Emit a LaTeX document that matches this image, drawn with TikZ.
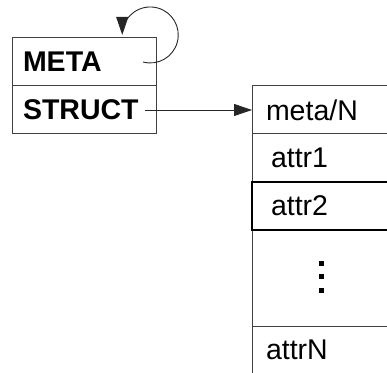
\documentclass[tikz,border=0pt]{standalone}
\usepackage{fontspec}
\setmainfont{Liberation Sans}
\usetikzlibrary{positioning,arrows.meta}
\colorlet{frame_gray}{black!75}
\tikzset{
    field/.style={draw=frame_gray,line width=1pt,outer sep=0pt,minimum height=48pt,inner ysep=0pt,align=left,font=\fontsize{28.5}{34}\selectfont},
    tag/.style={field,font=\fontsize{28.5}{34}\selectfont\bfseries,inner xsep=11pt,text width=122pt},
    cell/.style={field,inner xsep=14pt,text width=116pt},
    cell_indent/.style={field,inner xsep=19pt,text width=106pt},
    pointer/.style={-{Triangle[length=18pt,width=12pt]},line width=0.9pt,black!85},
}

\begin{document}
\begin{tikzpicture}[x=1pt,y=1pt]
  \useasboundingbox (0,0) rectangle (387,372);
  \clip (0,0) rectangle (387,372);
  % header block
  \node[tag,anchor=north west] (meta) at (12,334) {META};
  \node[tag,below=0pt of meta] (struct) {STRUCT};
  % attribute table
  \node[cell,anchor=north west] (metaN) at (252,286) {meta/N};
  \node[cell_indent,below=0pt of metaN] (attr1) {attr1};
  \node[cell,minimum height=96pt,below=48pt of attr1] (dots) {};
  \node[cell,below=0pt of dots] (attrN) {attrN};
  \node[cell_indent,draw=black,line width=1.2pt,below=0pt of attr1] (attr2) {attr2};
  \foreach \dy in {15,2,-12}
    \fill ([xshift=-3pt,yshift=\dy pt]dots.center) ++(-2.5,-2.5) rectangle ++(5,5);
  % links
  \draw[pointer] ([xshift=-11pt]struct.east) -- (metaN.west);
  \draw[pointer] ([xshift=-13pt]meta.east) arc[start angle=255,end angle=540,radius=28pt];
\end{tikzpicture}
\end{document}
